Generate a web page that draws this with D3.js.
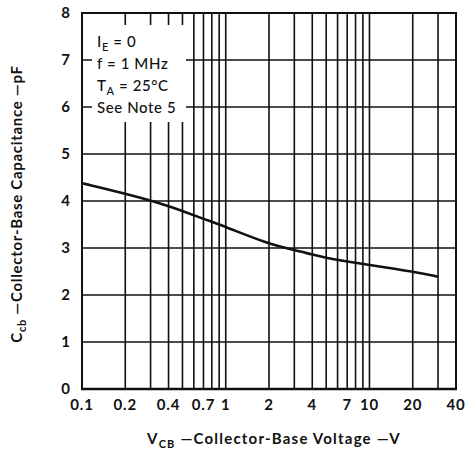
<!DOCTYPE html>
<html><head><meta charset="utf-8">
<script src="https://cdn.jsdelivr.net/npm/d3@7"></script>
<style>body{margin:0;background:#fff}</style>
</head><body>
<script>
const vcb = [0.1, 0.2, 0.3, 0.4, 0.5, 0.7, 1, 2, 3, 4, 5, 7, 10, 20, 30];
const ccb = [4.38, 4.16, 4.01, 3.89, 3.79, 3.62, 3.45, 3.08, 2.96, 2.86, 2.79, 2.71, 2.64, 2.5, 2.39];
const xTicks = [0.1, 0.2, 0.4, 0.7, 1, 2, 4, 7, 10, 20, 40];
const xGrid = [0.2,0.3,0.4,0.5,0.6,0.7,0.8,0.9,1,2,3,4,5,6,7,8,9,10,20,30];
const yTicks = [0,1,2,3,4,5,6,7,8];
const notes = ["IE", "f = 1 MHz", "TA", "See Note 5"];

const W=465,H=463;
const svg=d3.select("body").append("svg").attr("width",W).attr("height",H);
const x=d3.scaleLog().domain([0.1,40]).range([82,456]);
const y=d3.scaleLinear().domain([0,8]).range([389,13]);
const font="Lato, 'Open Sans', sans-serif";
const ink="#111";

const g=svg.append("g");
g.selectAll(".vg").data(xGrid).enter().append("line")
 .attr("x1",d=>x(d)).attr("x2",d=>x(d)).attr("y1",y(0)).attr("y2",y(8))
 .attr("stroke",ink).attr("stroke-width",1.6);
g.selectAll(".hg").data(yTicks).enter().append("line")
 .attr("x1",x(0.1)).attr("x2",x(40)).attr("y1",d=>y(d)).attr("y2",d=>y(d))
 .attr("stroke",ink).attr("stroke-width",1.6);

// legend white box
g.append("rect").attr("x",92).attr("y",25).attr("width",94).attr("height",97).attr("fill","#fff");

// frame
g.append("rect").attr("x",x(0.1)).attr("y",y(8)).attr("width",x(40)-x(0.1)).attr("height",y(0)-y(8))
 .attr("fill","none").attr("stroke",ink).attr("stroke-width",2);
g.append("line").attr("x1",x(0.1)-1).attr("x2",x(40)+1).attr("y1",y(0)).attr("y2",y(0)).attr("stroke",ink).attr("stroke-width",2.6);

// curve
const data=vcb.map((v,i)=>[v,ccb[i]]);
g.append("path").datum(data).attr("fill","none").attr("stroke",ink).attr("stroke-width",2.6)
 .attr("d",d3.line().x(d=>x(d[0])).y(d=>y(d[1])).curve(d3.curveBasis));

// tick labels
g.selectAll(".xt").data(xTicks).enter().append("text")
 .attr("x",d=>x(d)).attr("y",410).attr("text-anchor","middle").attr("letter-spacing",0.8)
 .attr("font-family",font).attr("font-weight",700).attr("font-size",15).attr("fill",ink).text(d=>String(d));
g.selectAll(".yt").data(yTicks).enter().append("text")
 .attr("x",70).attr("y",d=>y(d)+5).attr("text-anchor","end")
 .attr("font-family",font).attr("font-weight",700).attr("font-size",15).attr("fill",ink).text(d=>d);

// legend text
const lg=g.append("g").attr("font-family",font).attr("font-weight",500).attr("font-size",15).attr("letter-spacing",0.6).attr("fill",ink);
const t1=lg.append("text").attr("x",97).attr("y",47);
t1.append("tspan").text("I");
t1.append("tspan").attr("font-size",11).attr("dy",4).text("E");
t1.append("tspan").attr("dy",-4).text(" = 0");
lg.append("text").attr("x",97).attr("y",69).text(notes[1]);
const t3=lg.append("text").attr("x",97).attr("y",91);
t3.append("tspan").text("T");
t3.append("tspan").attr("font-size",11).attr("dy",4).text("A");
t3.append("tspan").attr("dy",-4).text("  = 25°C");
lg.append("text").attr("x",97).attr("y",113).text(notes[3]);

// axis titles
const xt=svg.append("text").attr("x",274).attr("y",444).attr("text-anchor","middle").attr("letter-spacing",1.2)
 .attr("font-family",font).attr("font-weight",700).attr("font-size",15).attr("fill",ink);
xt.append("tspan").text("V");
xt.append("tspan").attr("font-size",11).attr("dy",4).text("CB");
xt.append("tspan").attr("dy",-4).text(" —Collector-Base Voltage —V");

const yt=svg.append("text").attr("transform","translate(22,204) rotate(-90)").attr("text-anchor","middle").attr("letter-spacing",0.7)
 .attr("font-family",font).attr("font-weight",700).attr("font-size",15).attr("fill",ink);
yt.append("tspan").text("C");
yt.append("tspan").attr("font-size",11).attr("dy",4).text("cb");
yt.append("tspan").attr("dy",-4).text("  —Collector-Base  Capacitance —pF");
</script>
</body></html>
